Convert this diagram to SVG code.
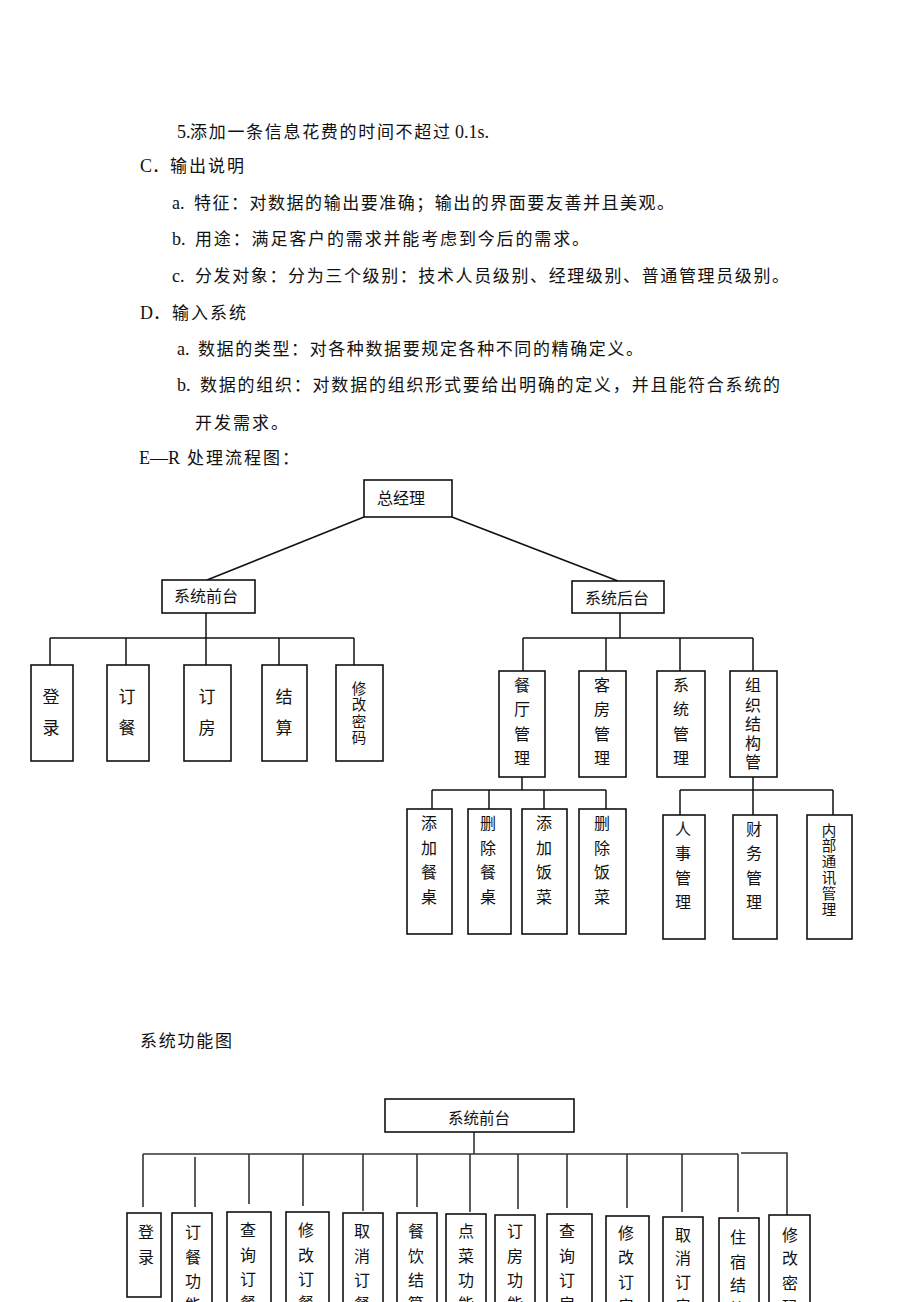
<svg xmlns="http://www.w3.org/2000/svg" width="920" height="1302" viewBox="0 0 920 1302">
<style>
.bg{fill:#fff}
.t{font-family:"Noto Sans CJK SC","Liberation Serif",sans-serif;font-size:17px;fill:#111}
.l{font-family:"Liberation Serif","Noto Sans CJK SC",serif;font-size:18px;fill:#111}
.b{font-family:"Noto Sans CJK SC",sans-serif;font-size:16px;fill:#111;text-anchor:middle}
.bb{font-family:"Noto Sans CJK SC",sans-serif;font-size:17px;fill:#111;text-anchor:middle}
.bs{font-family:"Noto Sans CJK SC",sans-serif;font-size:14.5px;fill:#111;text-anchor:middle}
.h{font-family:"Noto Sans CJK SC",sans-serif;font-size:15.5px;fill:#111}
.box{fill:#fff;stroke:#111;stroke-width:1.6}
.ln{fill:none;stroke:#111;stroke-width:1.5}
.ln2{fill:none;stroke:#333;stroke-width:1.6}
</style>
<rect class="bg" x="0" y="0" width="920" height="1302"/>

<g id="body-text">
<text class="l" x="177" y="137.5">5.</text>
<text class="t" x="190" y="137.5" textLength="260" lengthAdjust="spacing">添加一条信息花费的时间不超过</text>
<text class="l" x="455" y="137.5">0.1s.</text>

<text class="l" x="140" y="171.5">C</text>
<text class="t" x="152" y="171.5">．</text>
<text class="t" x="170" y="171.5" textLength="74" lengthAdjust="spacing">输出说明</text>

<text class="l" x="172" y="208.5">a.</text>
<text class="t" x="194" y="208.5" textLength="480" lengthAdjust="spacing">特征：对数据的输出要准确；输出的界面要友善并且美观。</text>

<text class="l" x="172" y="244.5">b.</text>
<text class="t" x="195" y="244.5" textLength="394" lengthAdjust="spacing">用途：满足客户的需求并能考虑到今后的需求。</text>

<text class="l" x="172" y="281.5">c.</text>
<text class="t" x="195" y="281.5" textLength="594" lengthAdjust="spacing">分发对象：分为三个级别：技术人员级别、经理级别、普通管理员级别。</text>

<text class="l" x="140" y="318.5">D</text>
<text class="t" x="153" y="318.5">．</text>
<text class="t" x="172" y="318.5" textLength="74" lengthAdjust="spacing">输入系统</text>

<text class="l" x="177" y="354.5">a.</text>
<text class="t" x="198" y="354.5" textLength="445" lengthAdjust="spacing">数据的类型：对各种数据要规定各种不同的精确定义。</text>

<text class="l" x="177" y="391">b.</text>
<text class="t" x="200" y="391" textLength="580" lengthAdjust="spacing">数据的组织：对数据的组织形式要给出明确的定义，并且能符合系统的</text>

<text class="t" x="195" y="428.5" textLength="93" lengthAdjust="spacing">开发需求。</text>

<text class="l" x="139" y="463.5">E—R</text>
<text class="t" x="187" y="463.5" textLength="112" lengthAdjust="spacing">处理流程图：</text>

<text class="t" x="140" y="1046.5" textLength="92" lengthAdjust="spacing">系统功能图</text>
</g>

<g id="er-connectors">
<line class="ln" x1="364" y1="517" x2="207" y2="580"/>
<line class="ln" x1="452" y1="517" x2="618" y2="581"/>
<line class="ln" x1="206" y1="613" x2="206" y2="638"/>
<line class="ln" x1="50" y1="638" x2="354" y2="638"/>
<line class="ln" x1="50" y1="638" x2="50" y2="665"/>
<line class="ln" x1="126" y1="638" x2="126" y2="665"/>
<line class="ln" x1="206" y1="638" x2="206" y2="665"/>
<line class="ln" x1="279" y1="638" x2="279" y2="665"/>
<line class="ln" x1="354" y1="638" x2="354" y2="665"/>
<line class="ln" x1="620" y1="613" x2="620" y2="638"/>
<line class="ln" x1="523" y1="638" x2="753" y2="638"/>
<line class="ln" x1="523" y1="638" x2="523" y2="671"/>
<line class="ln" x1="606" y1="638" x2="606" y2="671"/>
<line class="ln" x1="680" y1="638" x2="680" y2="671"/>
<line class="ln" x1="753" y1="638" x2="753" y2="671"/>
<line class="ln" x1="522" y1="777" x2="522" y2="790"/>
<line class="ln" x1="432" y1="790" x2="606" y2="790"/>
<line class="ln" x1="432" y1="790" x2="432" y2="809"/>
<line class="ln" x1="489" y1="790" x2="489" y2="809"/>
<line class="ln" x1="544" y1="790" x2="544" y2="809"/>
<line class="ln" x1="606" y1="790" x2="606" y2="809"/>
<line class="ln" x1="753" y1="777" x2="753" y2="790"/>
<line class="ln" x1="680" y1="790" x2="833" y2="790"/>
<line class="ln" x1="680" y1="790" x2="680" y2="815"/>
<line class="ln" x1="753" y1="790" x2="753" y2="815"/>
<line class="ln" x1="833" y1="790" x2="833" y2="815"/>
</g>

<g id="n-zongjingli"><rect class="box" x="364" y="480" width="88" height="37"/><text class="b" x="401" y="504">总经理</text></g>
<g id="n-qiantai"><rect class="box" x="162" y="580" width="93" height="33"/><text class="b" x="206" y="602">系统前台</text></g>
<g id="n-houtai"><rect class="box" x="572" y="581" width="92" height="32"/><text class="b" x="617" y="604">系统后台</text></g>

<g id="n-denglu"><rect class="box" x="31" y="665" width="42" height="96"/><text class="bb"><tspan x="51" y="703">登</tspan><tspan x="51" y="734">录</tspan></text></g>
<g id="n-dingcan"><rect class="box" x="107" y="665" width="42" height="96"/><text class="bb"><tspan x="127" y="703">订</tspan><tspan x="127" y="734">餐</tspan></text></g>
<g id="n-dingfang"><rect class="box" x="184" y="665" width="47" height="96"/><text class="bb"><tspan x="207" y="703">订</tspan><tspan x="207" y="734">房</tspan></text></g>
<g id="n-jiesuan"><rect class="box" x="262" y="665" width="45" height="96"/><text class="bb"><tspan x="284" y="703">结</tspan><tspan x="284" y="734">算</tspan></text></g>
<g id="n-xiugaimima"><rect class="box" x="336" y="665" width="47" height="96"/><text class="bs"><tspan x="359" y="694">修</tspan><tspan x="359" y="710">改</tspan><tspan x="359" y="727">密</tspan><tspan x="359" y="743">码</tspan></text></g>

<g id="n-cantingguanli"><rect class="box" x="499" y="671" width="46" height="106"/><text class="b"><tspan x="522" y="691">餐</tspan><tspan x="522" y="715">厅</tspan><tspan x="522" y="740">管</tspan><tspan x="522" y="764">理</tspan></text></g>
<g id="n-kefangguanli"><rect class="box" x="579" y="671" width="47" height="106"/><text class="b"><tspan x="602" y="691">客</tspan><tspan x="602" y="715">房</tspan><tspan x="602" y="740">管</tspan><tspan x="602" y="764">理</tspan></text></g>
<g id="n-xitongguanli"><rect class="box" x="657" y="671" width="48" height="106"/><text class="b"><tspan x="681" y="691">系</tspan><tspan x="681" y="715">统</tspan><tspan x="681" y="740">管</tspan><tspan x="681" y="764">理</tspan></text></g>
<g id="n-zuzhi"><rect class="box" x="730" y="671" width="47" height="106"/><text class="b"><tspan x="753" y="691">组</tspan><tspan x="753" y="711">织</tspan><tspan x="753" y="730">结</tspan><tspan x="753" y="749">构</tspan><tspan x="753" y="768">管</tspan></text></g>

<g id="n-tianjiacanzhuo"><rect class="box" x="407" y="809" width="45" height="125"/><text class="b"><tspan x="429" y="829">添</tspan><tspan x="429" y="854">加</tspan><tspan x="429" y="878">餐</tspan><tspan x="429" y="903">桌</tspan></text></g>
<g id="n-shanchucanzhuo"><rect class="box" x="468" y="809" width="43" height="125"/><text class="b"><tspan x="488" y="829">删</tspan><tspan x="488" y="854">除</tspan><tspan x="488" y="878">餐</tspan><tspan x="488" y="903">桌</tspan></text></g>
<g id="n-tianjiafancai"><rect class="box" x="522" y="809" width="45" height="125"/><text class="b"><tspan x="544" y="829">添</tspan><tspan x="544" y="854">加</tspan><tspan x="544" y="878">饭</tspan><tspan x="544" y="903">菜</tspan></text></g>
<g id="n-shanchufancai"><rect class="box" x="579" y="809" width="47" height="125"/><text class="b"><tspan x="602" y="829">删</tspan><tspan x="602" y="854">除</tspan><tspan x="602" y="878">饭</tspan><tspan x="602" y="903">菜</tspan></text></g>

<g id="n-renshi"><rect class="box" x="663" y="815" width="42" height="124"/><text class="b"><tspan x="683" y="835">人</tspan><tspan x="683" y="859">事</tspan><tspan x="683" y="884">管</tspan><tspan x="683" y="908">理</tspan></text></g>
<g id="n-caiwu"><rect class="box" x="733" y="815" width="44" height="124"/><text class="b"><tspan x="754" y="835">财</tspan><tspan x="754" y="859">务</tspan><tspan x="754" y="884">管</tspan><tspan x="754" y="908">理</tspan></text></g>
<g id="n-neibu"><rect class="box" x="807" y="815" width="45" height="124"/><text class="bs"><tspan x="829" y="836">内</tspan><tspan x="829" y="851">部</tspan><tspan x="829" y="867">通</tspan><tspan x="829" y="883">讯</tspan><tspan x="829" y="899">管</tspan><tspan x="829" y="915">理</tspan></text></g>

<g id="sf-connectors">
<line class="ln2" x1="474" y1="1132" x2="474" y2="1154"/>
<line class="ln2" x1="143" y1="1154" x2="738" y2="1154"/>
<polyline class="ln2" points="741,1153 787,1153 787,1215"/>
<line class="ln2" x1="143" y1="1154" x2="143" y2="1207"/>
<line class="ln2" x1="195" y1="1157" x2="195" y2="1207"/>
<line class="ln2" x1="249" y1="1154" x2="249" y2="1204"/>
<line class="ln2" x1="303" y1="1154" x2="303" y2="1206"/>
<line class="ln2" x1="363" y1="1154" x2="363" y2="1211"/>
<line class="ln2" x1="417" y1="1154" x2="417" y2="1207"/>
<line class="ln2" x1="470" y1="1154" x2="470" y2="1212"/>
<line class="ln2" x1="518" y1="1154" x2="518" y2="1209"/>
<line class="ln2" x1="567" y1="1154" x2="567" y2="1208"/>
<line class="ln2" x1="627" y1="1154" x2="627" y2="1208"/>
<line class="ln2" x1="682" y1="1154" x2="682" y2="1212"/>
<line class="ln2" x1="738" y1="1154" x2="738" y2="1212"/>
</g>

<g id="s-qiantai"><rect class="box" x="385" y="1099" width="189" height="33"/><text class="h" x="448" y="1124">系统前台</text></g>
<g id="s-denglu"><rect class="box" x="127" y="1213" width="34" height="84"/><text class="b"><tspan x="146" y="1238">登</tspan><tspan x="146" y="1263">录</tspan></text></g>
<g id="s-dingcangongneng"><rect class="box" x="172" y="1213" width="40" height="110"/><text class="b"><tspan x="193" y="1238">订</tspan><tspan x="193" y="1263">餐</tspan><tspan x="193" y="1287">功</tspan><tspan x="193" y="1311">能</tspan></text></g>
<g id="s-chaxundingcan"><rect class="box" x="227" y="1212" width="44" height="110"/><text class="b"><tspan x="248" y="1236">查</tspan><tspan x="248" y="1261">询</tspan><tspan x="248" y="1285">订</tspan><tspan x="248" y="1309">餐</tspan></text></g>
<g id="s-xiugaidingcan"><rect class="box" x="286" y="1212" width="43" height="110"/><text class="b"><tspan x="306" y="1236">修</tspan><tspan x="306" y="1261">改</tspan><tspan x="306" y="1285">订</tspan><tspan x="306" y="1309">餐</tspan></text></g>
<g id="s-quxiaodingcan"><rect class="box" x="343" y="1213" width="40" height="110"/><text class="b"><tspan x="362" y="1237">取</tspan><tspan x="362" y="1262">消</tspan><tspan x="362" y="1286">订</tspan><tspan x="362" y="1310">餐</tspan></text></g>
<g id="s-canyinjiesuan"><rect class="box" x="397" y="1213" width="40" height="110"/><text class="b"><tspan x="416" y="1237">餐</tspan><tspan x="416" y="1262">饮</tspan><tspan x="416" y="1286">结</tspan><tspan x="416" y="1310">算</tspan></text></g>
<g id="s-diancaigongneng"><rect class="box" x="446" y="1214" width="40" height="110"/><text class="b"><tspan x="466" y="1237">点</tspan><tspan x="466" y="1262">菜</tspan><tspan x="466" y="1286">功</tspan><tspan x="466" y="1310">能</tspan></text></g>
<g id="s-dingfanggongneng"><rect class="box" x="495" y="1215" width="40" height="110"/><text class="b"><tspan x="515" y="1237">订</tspan><tspan x="515" y="1262">房</tspan><tspan x="515" y="1286">功</tspan><tspan x="515" y="1310">能</tspan></text></g>
<g id="s-chaxundingfang"><rect class="box" x="547" y="1214" width="45" height="110"/><text class="b"><tspan x="567" y="1237">查</tspan><tspan x="567" y="1262">询</tspan><tspan x="567" y="1286">订</tspan><tspan x="567" y="1310">房</tspan></text></g>
<g id="s-xiugaidingfang"><rect class="box" x="606" y="1216" width="43" height="110"/><text class="b"><tspan x="626" y="1239">修</tspan><tspan x="626" y="1263">改</tspan><tspan x="626" y="1288">订</tspan><tspan x="626" y="1312">房</tspan></text></g>
<g id="s-quxiaodingfang"><rect class="box" x="663" y="1217" width="40" height="110"/><text class="b"><tspan x="683" y="1241">取</tspan><tspan x="683" y="1264">消</tspan><tspan x="683" y="1288">订</tspan><tspan x="683" y="1312">房</tspan></text></g>
<g id="s-zhusujiesuan"><rect class="box" x="719" y="1218" width="40" height="110"/><text class="b"><tspan x="738" y="1243">住</tspan><tspan x="738" y="1268">宿</tspan><tspan x="738" y="1291">结</tspan><tspan x="738" y="1315">算</tspan></text></g>
<g id="s-xiugaimima"><rect class="box" x="769" y="1215" width="41" height="110"/><text class="b"><tspan x="790" y="1241">修</tspan><tspan x="790" y="1264">改</tspan><tspan x="790" y="1289">密</tspan><tspan x="790" y="1313">码</tspan></text></g>
</svg>
